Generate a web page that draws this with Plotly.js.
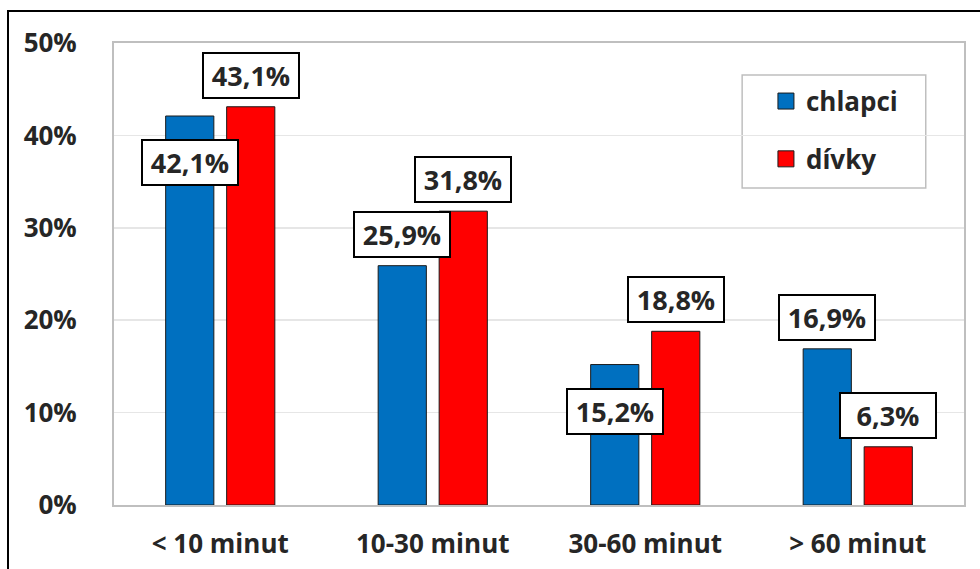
<!DOCTYPE html>
<html>
<head>
<meta charset="utf-8">
<script src="https://cdn.plot.ly/plotly-3.0.1.min.js"></script>
<style>
  html, body { margin: 0; padding: 0; background: #fff; }
  #wrap { position: relative; width: 980px; height: 569px; }
  #chart { position: absolute; left: 0; top: 0; width: 980px; height: 569px; }
  #frame { position: absolute; left: 7px; top: 10px; width: 980px; height: 600px;
           border-left: 2px solid #000; border-top: 2px solid #000; pointer-events: none; }
</style>
</head>
<body>
<div id="wrap"><div id="chart"></div><div id="frame"></div></div>
<script>
const categories = ['< 10 minut', '10-30 minut', '30-60 minut', '> 60 minut'];
const chlapci = [42.1, 25.9, 15.2, 16.9];
const divky = [43.1, 31.8, 18.8, 6.3];
const seriesNames = ['chlapci', 'dívky'];
// label placement: 'below' or 'above' the bar top
const chlapciLabelPos = ['below', 'above', 'below', 'above'];
const divkyLabelPos = ['above', 'above', 'above', 'above'];

const FONT = 'Open Sans, Noto Sans, sans-serif';
const TXT = '#262626';
const BLUE = '#0070C0', RED = '#FF0000';
const fmt = v => v.toFixed(1).replace('.', ',') + '%';

const traces = [
  { type: 'bar', name: seriesNames[0], x: categories, y: chlapci,
    marker: { color: BLUE, line: { color: '#1a1a1a', width: 1 } },
    showlegend: false, hoverinfo: 'none' },
  { type: 'bar', name: seriesNames[1], x: categories, y: divky,
    marker: { color: RED, line: { color: '#1a1a1a', width: 1 } },
    showlegend: false, hoverinfo: 'none' },
  // legend entries (square swatches)
  { type: 'scatter', mode: 'markers', name: seriesNames[0], x: [categories[0]], y: [null],
    marker: { symbol: 'square', size: 18, color: BLUE, line: { color: '#1a1a1a', width: 1 } },
    legendgroup: 'a', hoverinfo: 'none' },
  { type: 'scatter', mode: 'markers', name: seriesNames[1], x: [categories[0]], y: [null],
    marker: { symbol: 'square', size: 18, color: RED, line: { color: '#1a1a1a', width: 1 } },
    legendgroup: 'b', hoverinfo: 'none' }
];

const annotations = [];
function addLabels(vals, pos, shift) {
  vals.forEach((v, i) => {
    const above = pos[i] === 'above';
    annotations.push({
      x: categories[i], y: v, xref: 'x', yref: 'y', xshift: shift,
      yanchor: above ? 'bottom' : 'top', yshift: above ? 8 : -23,
      text: '<b>' + fmt(v) + '</b>', showarrow: false,
      font: { family: FONT, size: 27, color: TXT },
      bgcolor: '#ffffff', bordercolor: '#000000', borderwidth: 2, borderpad: 3,
      width: 88, height: 37
    });
  });
}
addLabels(chlapci, chlapciLabelPos, -30.5);
addLabels(divky, divkyLabelPos, 30.5);

const layout = {
  width: 980, height: 569,
  margin: { l: 114, r: 16, t: 43, b: 64 },
  paper_bgcolor: '#ffffff', plot_bgcolor: '#ffffff',
  barmode: 'group', bargap: 0.426, bargroupgap: 0.21,
  separators: ',.',
  font: { family: FONT, color: TXT },
  xaxis: {
    type: 'category', showgrid: false, showline: true, mirror: true,
    linecolor: '#BFBFBF', linewidth: 2, ticks: '',
    tickfont: { family: FONT, size: 26, color: TXT, weight: 'bold' },
    ticklabelstandoff: 15
  },
  yaxis: {
    range: [0, 50], dtick: 10, ticksuffix: '%', showline: true, mirror: true,
    linecolor: '#BFBFBF', linewidth: 2, gridcolor: '#E6E6E6', gridwidth: 1.5,
    zeroline: false, ticks: '',
    tickfont: { family: FONT, size: 26, color: TXT, weight: 'bold' },
    ticklabelstandoff: 30
  },
  showlegend: true,
  legend: {
    x: 0.767, y: 0.925, xanchor: 'left', yanchor: 'top',
    bgcolor: 'rgba(0,0,0,0)', borderwidth: 0, tracegroupgap: 21,
    itemsizing: 'trace',
    font: { family: FONT, size: 26, color: TXT, weight: 'bold' },
    traceorder: 'grouped'
  },
  shapes: [{
    type: 'rect', xref: 'paper', yref: 'paper', layer: 'below',
    x0: 0.739, x1: 0.955, y0: 0.686, y1: 0.931,
    line: { color: '#BFBFBF', width: 1.5 }, fillcolor: '#ffffff'
  }],
  annotations: annotations
};

Plotly.newPlot('chart', traces, layout, { displayModeBar: false, staticPlot: true });
</script>
</body>
</html>
